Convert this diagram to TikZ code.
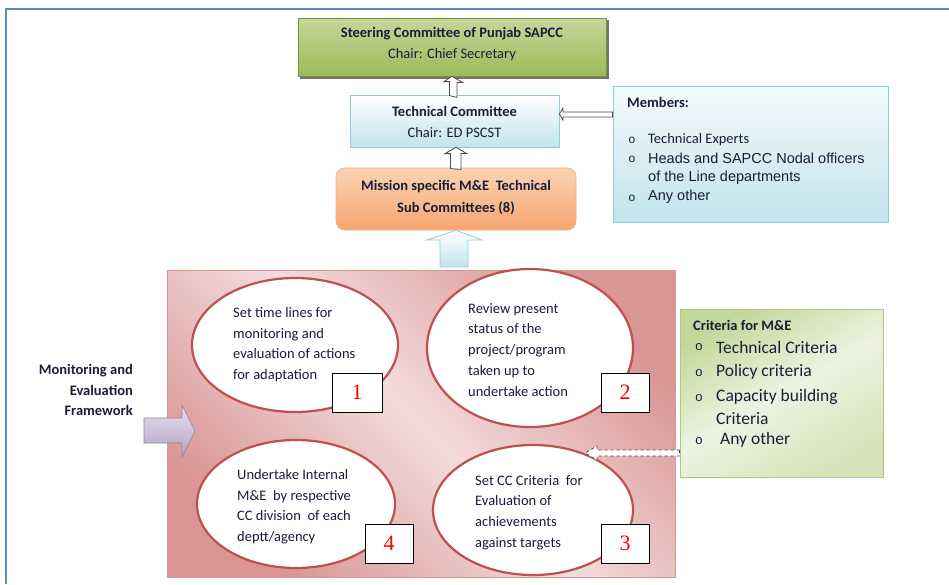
\documentclass[tikz,border=0pt]{standalone}
\usepackage{fontspec}
\setmainfont{Carlito}
\newfontfamily\arialf{Liberation Sans}
\newfontfamily\timesf{Liberation Serif}
\usetikzlibrary{calc,shapes.geometric}
\definecolor{txt}{HTML}{1C1C3A}
\definecolor{framec}{HTML}{5A87C6}
\definecolor{grnA}{HTML}{C4D79B}
\definecolor{grnB}{HTML}{9BBB59}
\definecolor{grnE}{HTML}{77933C}
\definecolor{bluA}{HTML}{F4FAFC}
\definecolor{bluB}{HTML}{C2E3EC}
\definecolor{bluE}{HTML}{92CDDC}
\definecolor{orA}{HTML}{FAD3B3}
\definecolor{orB}{HTML}{F6A56F}
\definecolor{orE}{HTML}{F4B183}
\definecolor{redL}{HTML}{F2DCDB}
\definecolor{redD}{HTML}{D99694}
\definecolor{ellE}{HTML}{C0504D}
\definecolor{purA}{HTML}{E6E0EC}
\definecolor{purB}{HTML}{B3A2C7}
\definecolor{crA}{HTML}{C4D79B}
\definecolor{crM}{HTML}{EEF3E2}
\definecolor{crE}{HTML}{B2C87E}
\tikzset{
  box/.style={draw, line width=0.8pt, inner sep=0pt},
  ell/.style={ellipse, draw=ellE, line width=2.2pt, fill=white, inner sep=0pt},
  numbox/.style={draw=black, line width=1pt, fill=white, inner sep=0pt, text=red, font=\timesf\fontsize{22}{22}\selectfont},
  etext/.style={anchor=north west, align=left, text=txt, inner sep=0pt, font=\fontsize{14.5}{20.8}\selectfont},
  hollow/.style={draw=black!70, line width=0.8pt, fill=white},
  lbl/.style={inner sep=0pt, text=txt},
  tfont/.style={font=\fontsize{14.5}{16}\selectfont},
  tbfont/.style={font=\bfseries\fontsize{14.5}{16}\selectfont},
}
\begin{document}
\begin{tikzpicture}[x=1pt,y=-1pt]
\useasboundingbox (0,0) rectangle (949,584);
\fill[white] (0,0) rectangle (949,584);
% frame
\draw[framec, line width=2pt] (6,584) -- (6,9) -- (949,9);

% steering committee
\fill[black!55] (300,20) rectangle (608.5,78.5);
\node[box, draw=grnE, top color=grnA, bottom color=grnB, minimum width=308pt, minimum height=58pt] (steer) at (452,47) {};
\node[lbl, tbfont] (steerT) at (452,34) {Steering Committee of Punjab SAPCC};
\node[lbl, tfont] (steerC) at (452,55) {Chair: Chief Secretary};

% technical committee
\node[box, draw=bluE, top color=white, bottom color=bluB, minimum width=209pt, minimum height=52pt] (tc) at (454.5,121) {};
\node[lbl, tbfont] (tcT) at (454.5,111) {Technical Committee};
\node[lbl, tfont] (tcC) at (454.5,133) {Chair: ED PSCST};

% mission
\node[box, draw=orE, top color=orA, bottom color=orB, rounded corners=9pt, minimum width=240pt, minimum height=62pt] (mis) at (456,199) {};
\node[lbl, tbfont] (misA) at (456,187) {Mission specific M\&E\ \ Technical};
\node[lbl, tbfont] (misB) at (456,208) {Sub Committees (8)};

% members
\node[box, draw=bluE, top color=bluA, bottom color=bluB, minimum width=275pt, minimum height=136pt] (mem) at (750.5,154) {};
\node[lbl, anchor=west, tbfont] (memT) at (627,102) {Members:};
\node[lbl, font=\arialf\fontsize{12}{12}\selectfont] (mb1) at (632,140) {o};
\node[lbl, font=\arialf\fontsize{12}{12}\selectfont] (mb2) at (632,159) {o};
\node[lbl, font=\arialf\fontsize{12}{12}\selectfont] (mb3) at (632,198) {o};
\node[lbl, anchor=west, tfont] (m1) at (648,140) {Technical Experts};
\node[lbl, anchor=west, font=\arialf\fontsize{14.5}{16}\selectfont] (m2) at (648,158) {Heads and SAPCC Nodal officers};
\node[lbl, anchor=west, font=\arialf\fontsize{14.5}{16}\selectfont] (m2b) at (648,178) {of the Line departments};
\node[lbl, anchor=west, font=\arialf\fontsize{14.5}{16}\selectfont] (m3) at (648,197) {Any other};

% hollow arrows
\draw[hollow] ($(tc.north)+(-5,1)$) -- ++(0,-14) -- ++(-5.5,0) -- (steer.south) -- ++(10.5,6) -- ++(-5.5,0) -- ++(0,15) -- cycle;
\draw[hollow] ($(mis.north)+(-5.5,1)$) -- ++(0,-15) -- ++(-5.5,0) -- ($(tc.south)+(1.5,0)$) -- ++(10.5,6) -- ++(-5.5,0) -- ++(0,16) -- cycle;
\draw[hollow] (mem.west |- 0,112) -- (563,112) -- (563,108) -- (tc.east |- 0,114) -- (563,120) -- (563,117) -- (mem.west |- 0,117) -- cycle;

% red framework box
\shade[top color=redD, bottom color=redD, middle color=redL, shading angle=-45] (167,270) rectangle (675,577);
\node[draw=redD, line width=0.6pt, minimum width=508pt, minimum height=307pt, inner sep=0pt] (frame) at (421,423.5) {};

% big blue arrow
\draw[draw=bluE, line width=0.8pt, top color=white, bottom color=bluB] (440,267) -- (440,240) -- (427,240) -- (mis.south) -- (482,240) -- (468,240) -- (468,267) -- cycle;

% ellipses
\node[ell, minimum width=206pt, minimum height=134pt] (e1) at (295,345) {};
\node[ell, minimum width=206pt, minimum height=158pt] (e2) at (530,348) {};
\node[ell, minimum width=198pt, minimum height=128pt] (e4) at (296,504) {};
\node[ell, minimum width=200pt, minimum height=130pt] (e3) at (533,510) {};

\node[etext] (t1) at (233,307) {Set time lines for\\monitoring and\\evaluation of actions\\for adaptation};
\node[etext] (t2) at (468,303) {Review present\\status of the\\project/program\\taken up to\\undertake action};
\node[etext] (t4) at (237,469) {Undertake Internal\\M\&E\ \ by respective\\CC division\ \ of each\\deptt/agency};
\node[etext] (t3) at (475,475) {Set CC Criteria\ \ for\\Evaluation of\\achievements\\against targets};

\node[numbox, minimum width=50pt, minimum height=39pt] (n1) at (357,392.5) {1};
\node[numbox, minimum width=48pt, minimum height=39pt] (n2) at (625,392.5) {2};
\node[numbox, minimum width=48pt, minimum height=39pt] (n3) at (625,543.5) {3};
\node[numbox, minimum width=48pt, minimum height=39pt] (n4) at (389,543.5) {4};

% monitoring label and purple arrow
\node[lbl, align=right, anchor=east, font=\bfseries\fontsize{14.5}{20.5}\selectfont] (mef) at (133,390) {Monitoring and\\Evaluation\\Framework};
\draw[draw=purB!80!black, line width=0.6pt, top color=purA, bottom color=purB] (144,418) -- (182,418) -- (182,405) -- (195,431) -- (182,457) -- (182,443) -- (144,443) -- cycle;

% criteria
\node[box, draw=crE, left color=crA, right color=crA!70!white, middle color=crM, shading angle=30, minimum width=203pt, minimum height=168pt] (cr) at (781.5,393) {};
\node[lbl, anchor=west, tbfont] (crT) at (693,325) {Criteria for M\&E};
\foreach \y/\n in {347/c1,373/c2,398/c3,441/c4} {
  \node[lbl, font=\arialf\fontsize{13}{13}\selectfont] (b\n) at (699,\y) {o};
}
\node[lbl, anchor=west, font=\fontsize{17.5}{19}\selectfont] (c1) at (716,347) {Technical Criteria};
\node[lbl, anchor=west, font=\fontsize{17.5}{19}\selectfont] (c2) at (716,372) {Policy criteria};
\node[lbl, anchor=west, font=\fontsize{17.5}{19}\selectfont] (c3) at (716,397) {Capacity building};
\node[lbl, anchor=west, font=\fontsize{17.5}{19}\selectfont] (c3b) at (716,419) {Criteria};
\node[lbl, anchor=west, font=\fontsize{17.5}{19}\selectfont] (c4) at (720,440) {Any other};

% dashed arrow criteria -> ellipse 3
\draw[black!75, dashed, line width=0.8pt, fill=white] (cr.west |- 0,450) -- (597,450) -- (597,446) -- (585,453) -- (597,460) -- (597,456) -- (cr.west |- 0,456) -- cycle;
\end{tikzpicture}
\end{document}
